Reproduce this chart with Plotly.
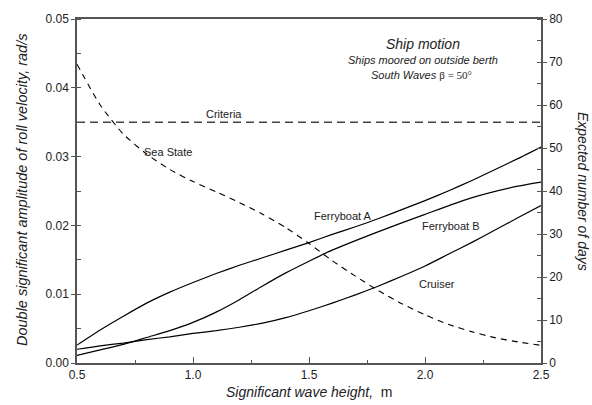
import plotly.graph_objects as go

hs_a = [0.5, 0.6, 0.7, 0.8, 0.9, 1.0, 1.1, 1.2, 1.3, 1.4, 1.5, 1.6, 1.7, 1.8, 1.9, 2.0, 2.1, 2.2, 2.3, 2.4, 2.5]
ferry_a = [0.0026, 0.0048, 0.0068, 0.0087, 0.0103, 0.0117, 0.0130, 0.0142, 0.0153, 0.0164, 0.0175,
           0.0187, 0.0198, 0.0210, 0.0223, 0.0236, 0.0250, 0.0265, 0.0281, 0.0297, 0.0314]

hs_b = [0.5, 0.6, 0.7, 0.8, 0.9, 1.0, 1.1, 1.2, 1.3, 1.4, 1.5, 1.6, 1.8, 2.0, 2.2, 2.4, 2.5]
ferry_b = [0.0011, 0.0019, 0.0027, 0.0037, 0.0047, 0.0059, 0.0074, 0.0092, 0.0112, 0.0131, 0.0148,
           0.0164, 0.0191, 0.0216, 0.0240, 0.0257, 0.0263]

hs_c = [0.5, 0.6, 0.7, 0.8, 0.9, 1.0, 1.1, 1.2, 1.3, 1.4, 1.5, 1.6, 1.7, 1.8, 1.9, 2.0, 2.1, 2.2, 2.3, 2.4, 2.5]
cruiser = [0.0020, 0.0025, 0.0029, 0.0034, 0.0038, 0.0043, 0.0047, 0.0052, 0.0058, 0.0066, 0.0076,
           0.0087, 0.0099, 0.0112, 0.0126, 0.0141, 0.0158, 0.0175, 0.0193, 0.0211, 0.0229]

hs_s = [0.5, 0.6, 0.7, 0.8, 0.9, 1.0, 1.1, 1.2, 1.3, 1.4, 1.5, 1.6, 1.7, 1.8, 1.9, 2.0, 2.1, 2.2, 2.3, 2.4, 2.5]
sea_state_days = [69.5, 60.0, 53.2, 48.6, 45.0, 42.2, 39.8, 37.3, 34.6, 31.5, 27.8, 23.8, 20.2, 16.8,
                  13.8, 11.2, 9.0, 7.3, 5.9, 4.9, 4.1]

criteria_x = [0.5, 2.5]
criteria_value = 0.035

x_ticks = [0.5, 1.0, 1.5, 2.0, 2.5]
y_ticks = [0.00, 0.01, 0.02, 0.03, 0.04, 0.05]
y2_ticks = [0, 10, 20, 30, 40, 50, 60, 70, 80]

FONT = "Liberation Sans, Arial, sans-serif"
TXT = "#222222"
AX = "#555555"

fig = go.Figure()
line = dict(color="black", width=1.2, shape="spline", smoothing=0.6)
fig.add_trace(go.Scatter(x=hs_a, y=ferry_a, mode="lines", line=line, name="Ferryboat A"))
fig.add_trace(go.Scatter(x=hs_b, y=ferry_b, mode="lines", line=line, name="Ferryboat B"))
fig.add_trace(go.Scatter(x=hs_c, y=cruiser, mode="lines", line=line, name="Cruiser"))
fig.add_trace(go.Scatter(x=criteria_x, y=[criteria_value] * len(criteria_x), mode="lines",
                         line=dict(color="#444444", width=1.5, dash="8px,5px"), name="Criteria"))
fig.add_trace(go.Scatter(x=hs_s, y=sea_state_days, mode="lines", yaxis="y2",
                         line=dict(color="black", width=1.1, dash="6px,5px", shape="spline", smoothing=0.6),
                         name="Sea State"))

fig.update_layout(
    width=592, height=405,
    margin=dict(l=77, r=51, t=13, b=42),
    paper_bgcolor="white", plot_bgcolor="white",
    showlegend=False,
    font=dict(family=FONT, size=12, color=TXT),
    xaxis=dict(range=[0.5, 2.5], tickvals=x_ticks, ticktext=[f"{v:.1f}" for v in x_ticks],
               showgrid=False, zeroline=False, showline=True, linecolor=AX, linewidth=1.5,
               mirror=True, ticks="inside", ticklen=6, tickcolor=AX,
               minor=dict(dtick=0.25, tick0=0.5, ticks="inside", ticklen=3, tickcolor=AX),
               tickfont=dict(size=12, color=TXT)),
    yaxis=dict(range=[0, 0.05], tickvals=y_ticks, ticktext=[f"{v:.2f}" for v in y_ticks],
               showgrid=False, zeroline=False, showline=True, linecolor=AX, linewidth=1.5,
               ticks="outside", ticklen=4, tickcolor=AX,
               minor=dict(dtick=0.005, tick0=0, ticks="inside", ticklen=4, tickcolor=AX),
               tickfont=dict(size=12, color=TXT)),
    yaxis2=dict(range=[0, 80], tickvals=y2_ticks, overlaying="y", side="right",
                showgrid=False, zeroline=False, showline=True, linecolor=AX, linewidth=1.5,
                ticks="outside", ticklen=4, tickcolor=AX,
                minor=dict(dtick=5, tick0=0, ticks="inside", ticklen=4, tickcolor=AX),
                tickfont=dict(size=12, color=TXT)),
)

def px_x(px):
    return (px - 77) / 464

def px_y(py):
    return (363 - py) / 350

ann = []
def add(text, px, py, size, angle=0):
    ann.append(dict(text=text, xref="paper", yref="paper", x=px_x(px), y=px_y(py),
                    xanchor="center", yanchor="middle", textangle=angle, showarrow=False,
                    font=dict(size=size, color=TXT)))

add("<i>Double significant amplitude of roll velocity, rad/s</i>", 22, 187, 14.5, -90)
add("<i>Expected number of days</i>", 583, 188, 14, 90)
add("<i>Significant wave height,</i>  m", 309, 392, 14)
add("<i>Ship motion</i>", 423, 38, 14)
add("<i>Ships moored on outside berth</i>", 423, 55, 11)
add("<i>South Waves</i> <span style='font-family:Liberation Serif, Times New Roman, serif'>β = 50°</span>",
    421, 70, 11)
for t, px, py in [("Criteria", 224, 110), ("Sea State", 168, 148), ("Ferryboat A", 343, 213),
                  ("Ferryboat B", 450, 224), ("Cruiser", 437, 283)]:
    add(t, px, py, 11)
fig.update_layout(annotations=ann)

fig.write_html("out.html", config={"displayModeBar": False},
               post_script="document.body.style.margin='0px';")
